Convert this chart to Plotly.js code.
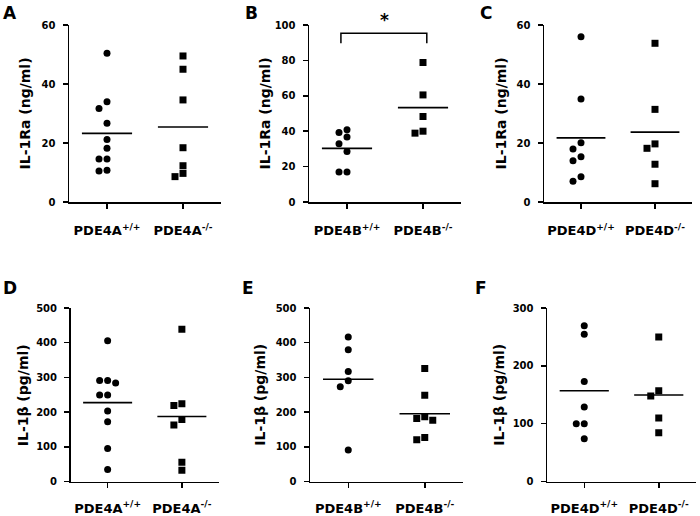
<!DOCTYPE html>
<html>
<head>
<meta charset="utf-8">
<script src="https://cdn.plot.ly/plotly-3.0.1.min.js"></script>
<style>html,body{margin:0;padding:0;background:#fff;}#chart{width:700px;height:516px;}</style>
</head>
<body>
<div id="chart"></div>
<script>
// ---------- data ----------
const catsA = ["PDE4A<sup>+/+</sup>", "PDE4A<sup>-/-</sup>"];
const catsB = ["PDE4B<sup>+/+</sup>", "PDE4B<sup>-/-</sup>"];
const catsD = ["PDE4D<sup>+/+</sup>", "PDE4D<sup>-/-</sup>"];

const ra4A_wt = [50.4, 34.0, 31.7, 26.7, 21.2, 18.2, 14.6, 14.6, 10.8, 10.5];
const ra4A_ko = [49.5, 45.0, 34.6, 18.4, 12.3, 9.7, 8.6];
const ra4B_wt = [40.8, 39.3, 36.7, 32.9, 28.5, 16.9, 16.9];
const ra4B_ko = [78.8, 60.5, 48.3, 40.0, 38.9];
const ra4D_wt = [56.0, 34.9, 20.1, 18.0, 15.3, 14.0, 8.6, 7.0];
const ra4D_ko = [53.8, 31.4, 19.7, 18.2, 12.8, 6.2];

const b4A_wt = [405.8, 291, 291, 283.7, 249, 249, 202.9, 172, 95.2, 34.6];
const b4A_ko = [438.5, 224, 219.2, 178.8, 162.5, 55.8, 32.7];
const b4B_wt = [416.5, 379.5, 316.9, 290.3, 273.2, 91.1];
const b4B_ko = [325.4, 248.6, 186.9, 181.2, 176.5, 127.1, 120.5];
const b4D_wt = [269.5, 254.5, 173.1, 128.7, 99.8, 99.8, 73.9];
const b4D_ko = [249.9, 157, 147.7, 109.6, 84.2];

const yMaxTop = [60, 100, 60];
const yMaxBot = [500, 500, 300];
const yTitleRa = "IL-1Ra (ng/ml)";
const yTitleB = "IL-1\u03B2 (pg/ml)";
const panelLetters = ["A", "B", "C", "D", "E", "F"];
const sigMark = "*";

// ---------- layout geometry ----------
const W = 700, H = 516;
const FAM = "DejaVu Sans, Verdana, sans-serif";
const colPx = [[69, 221], [309, 461], [544, 692], [70.5, 219], [310, 463], [547, 696]];
const rowPx = [[25, 202], [308, 481.5]];
const letterPx = [[10, 13], [251, 13], [486, 13], [10, 288], [248, 288], [481, 288]];
const titleGap = [44, 44, 43, 48, 50, 48];

const panels = [
  {wt: ra4A_wt, ko: ra4A_ko, cats: catsA, ymax: yMaxTop[0], dt: 20, title: yTitleRa},
  {wt: ra4B_wt, ko: ra4B_ko, cats: catsB, ymax: yMaxTop[1], dt: 20, title: yTitleRa},
  {wt: ra4D_wt, ko: ra4D_ko, cats: catsD, ymax: yMaxTop[2], dt: 20, title: yTitleRa},
  {wt: b4A_wt, ko: b4A_ko, cats: catsA, ymax: yMaxBot[0], dt: 100, title: yTitleB},
  {wt: b4B_wt, ko: b4B_ko, cats: catsB, ymax: yMaxBot[1], dt: 100, title: yTitleB},
  {wt: b4D_wt, ko: b4D_ko, cats: catsD, ymax: yMaxBot[2], dt: 100, title: yTitleB}
];

function mean(a) { return a.reduce((s, v) => s + v, 0) / a.length; }

// simple beeswarm: spread points that would overlap into side slots
function swarm(vals, center, pxPerUnit, pxPerCat) {
  const d = 7, s = 8;
  const placed = [];
  const xs = new Array(vals.length);
  const order = vals.map((v, i) => i).sort((a, b) => vals[b] - vals[a]);
  for (const i of order) {
    for (const k of [0, -1, 1, -2, 2, -3, 3]) {
      const hit = placed.some(p => p.k === k && Math.abs(p.v - vals[i]) * pxPerUnit < d);
      if (!hit) { placed.push({k: k, v: vals[i]}); xs[i] = center + k * s / pxPerCat; break; }
    }
  }
  return xs;
}

const traces = [];
const layout = {
  width: W, height: H,
  margin: {l: 0, r: 0, t: 0, b: 0},
  paper_bgcolor: "#fff", plot_bgcolor: "#fff",
  showlegend: false,
  font: {family: FAM, color: "#000", weight: "bold"},
  annotations: [], shapes: []
};

panels.forEach((p, i) => {
  const n = i + 1;
  const sx = n === 1 ? "" : String(n);
  const xPx = colPx[i];
  const yPx = rowPx[i < 3 ? 0 : 1];
  const pxPerUnit = (yPx[1] - yPx[0]) / p.ymax;
  const pxPerCat = (xPx[1] - xPx[0]) / 2;

  const groups = [{v: p.wt, c: 0, sym: "circle"}, {v: p.ko, c: 1, sym: "square"}];
  groups.forEach(g => {
    traces.push({
      type: "scatter", mode: "markers",
      x: swarm(g.v, g.c, pxPerUnit, pxPerCat), y: g.v,
      xaxis: "x" + sx, yaxis: "y" + sx,
      marker: {symbol: g.sym, size: 7, color: "#000", line: {width: 0}},
      hoverinfo: "y"
    });
    const m = mean(g.v);
    traces.push({
      type: "scatter", mode: "lines",
      x: [g.c - 0.33, g.c + 0.33], y: [m, m],
      xaxis: "x" + sx, yaxis: "y" + sx,
      line: {color: "#000", width: 1.6},
      hoverinfo: "skip"
    });
  });

  layout["xaxis" + sx] = {
    domain: [xPx[0] / W, xPx[1] / W], anchor: "y" + sx,
    range: [-0.5, 1.5], tickvals: [0, 1], ticktext: p.cats,
    showline: true, linewidth: 1.5, linecolor: "#000",
    ticks: "outside", ticklen: 5, tickwidth: 1.5, tickcolor: "#000",
    ticklabelstandoff: i < 3 ? 11 : 9,
    showgrid: false, zeroline: false, fixedrange: true,
    tickfont: {family: FAM, size: 13, color: "#000", weight: "bold"}
  };
  layout["yaxis" + sx] = {
    domain: [1 - yPx[1] / H, 1 - yPx[0] / H], anchor: "x" + sx,
    range: [0, p.ymax], dtick: p.dt, tick0: 0,
    showline: true, linewidth: 1.5, linecolor: "#000",
    ticks: "outside", ticklen: 5, tickwidth: 1.5, tickcolor: "#000",
    ticklabelstandoff: 5,
    showgrid: false, zeroline: false, fixedrange: true,
    tickfont: {family: FAM, size: 10, color: "#000", weight: "bold"}
  };

  // y-axis title
  layout.annotations.push({
    text: p.title, xref: "paper", yref: "paper", textangle: -90,
    x: (xPx[0] - titleGap[i]) / W, y: 1 - ((yPx[0] + yPx[1]) / 2) / H,
    xanchor: "center", yanchor: "middle", showarrow: false,
    font: {family: FAM, size: 14, color: "#000", weight: "bold"}
  });

  // panel letter
  layout.annotations.push({
    text: panelLetters[i], xref: "paper", yref: "paper",
    x: letterPx[i][0] / W, y: 1 - letterPx[i][1] / H,
    xanchor: "center", yanchor: "middle", showarrow: false,
    font: {family: FAM, size: 17, color: "#000", weight: "bold"}
  });
});

// significance bracket on panel B
layout.shapes.push({
  type: "path", xref: "x2", yref: "y2",
  path: "M -0.08 89.7 L -0.08 95.3 L 1.05 95.3 L 1.05 89.7",
  line: {color: "#000", width: 1.5}
});
layout.annotations.push({
  text: sigMark, xref: "x2", yref: "paper",
  x: 0.49, y: 1 - 20 / H, xanchor: "center", yanchor: "middle", showarrow: false,
  font: {family: FAM, size: 17, color: "#000", weight: "bold"}
});

Plotly.newPlot("chart", traces, layout, {displayModeBar: false, staticPlot: true});
</script>
</body>
</html>
